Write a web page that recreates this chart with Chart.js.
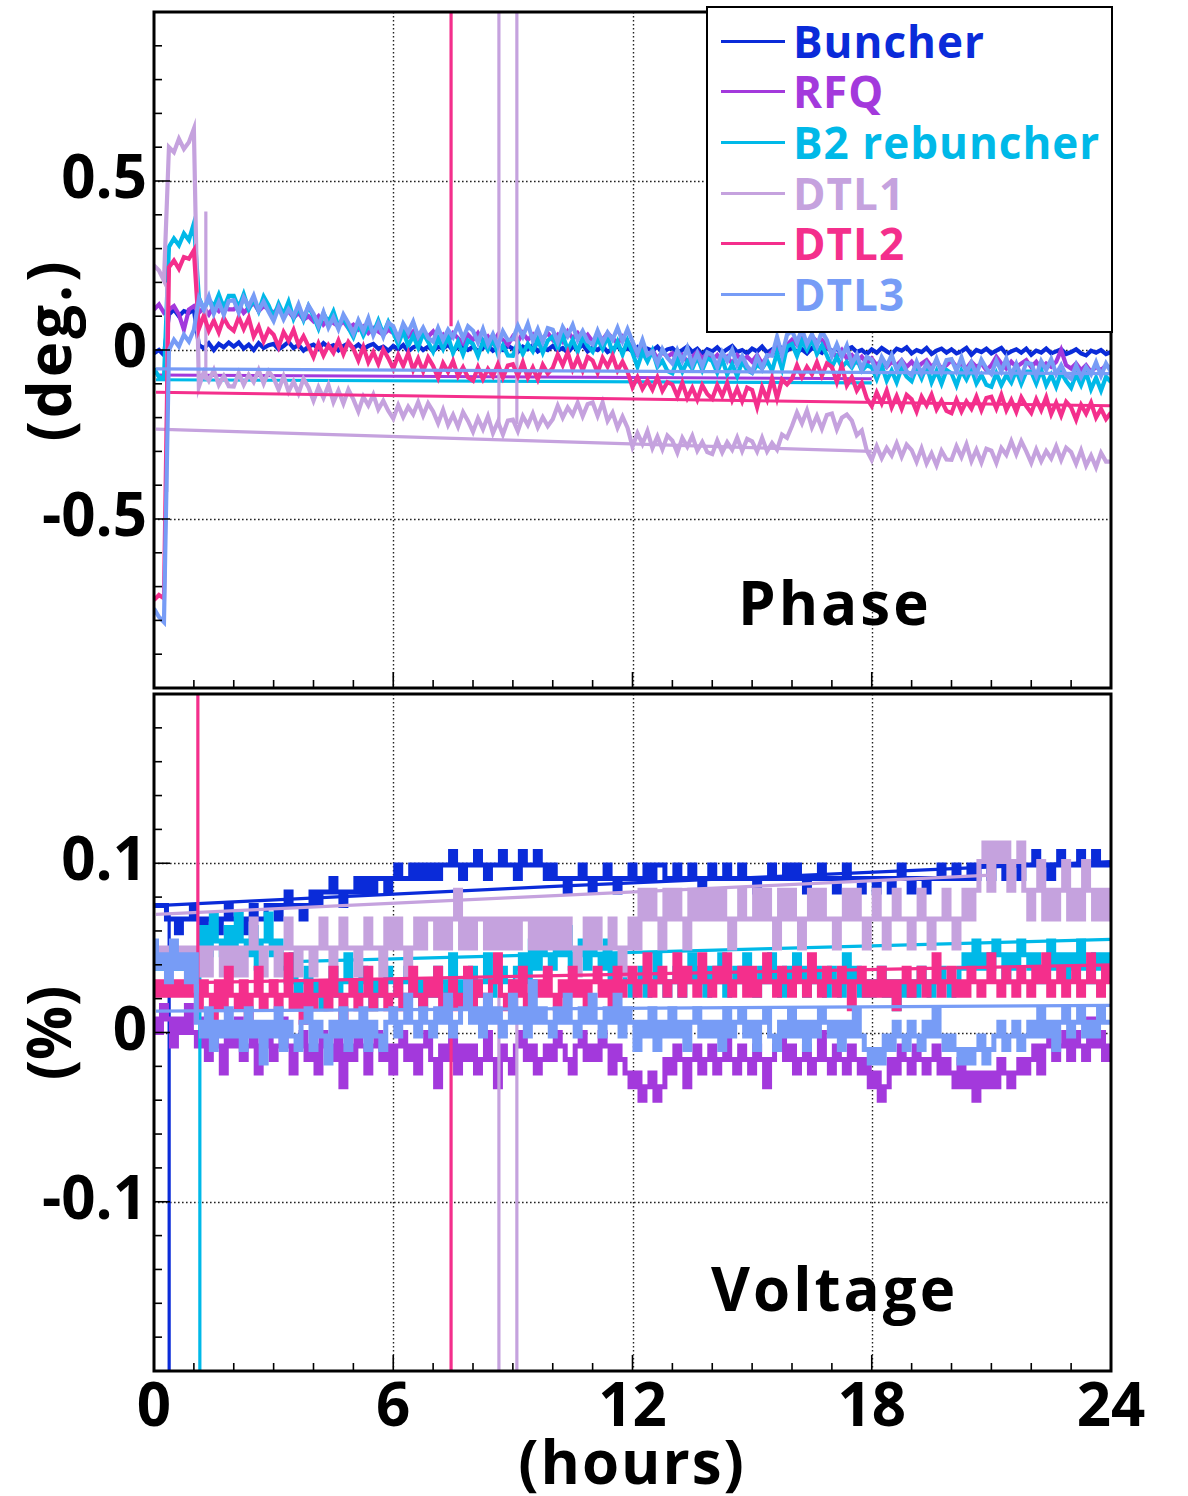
<!DOCTYPE html>
<html>
<head>
<meta charset="utf-8">
<script src="https://cdn.jsdelivr.net/npm/chart.js@4.4.1/dist/chart.umd.min.js"></script>
<style>
html,body{margin:0;padding:0;background:#fff;}
body{width:1188px;height:1496px;position:relative;overflow:hidden;font-family:'Open Sans',sans-serif;}
canvas{position:absolute;left:0;}
#phaseCanvas{top:0;}
#voltCanvas{top:692px;}
.lbl{position:absolute;font-weight:700;color:#000;white-space:nowrap;font-size:60px;line-height:60px;}
#legend{position:absolute;left:706px;top:6px;width:403px;height:323px;border:2px solid #000;background:#fff;}
.lrow{position:absolute;left:0;height:50px;width:400px;}
.lline{position:absolute;left:13px;width:64px;height:3px;}
.ltxt{position:absolute;left:85px;top:0;font-size:44px;line-height:50px;font-weight:700;white-space:nowrap;letter-spacing:1px;}
.rot{transform:rotate(-90deg);transform-origin:50% 50%;text-align:center;}
</style>
</head>
<body>
<canvas id="phaseCanvas" width="1188" height="692"></canvas>
<canvas id="voltCanvas" width="1188" height="804"></canvas>
<div id="legend"></div>
<div class="lbl" style="left:738px;top:572px;letter-spacing:3px;">Phase</div>
<div class="lbl" style="left:711px;top:1258px;letter-spacing:3px;">Voltage</div>
<div class="lbl rot" style="left:-62px;top:320px;width:220px;height:60px;letter-spacing:3px;">(deg.)</div>
<div class="lbl rot" style="left:-62px;top:1003px;width:220px;height:60px;">(%)</div>
<div class="lbl" style="left:432px;top:1431px;width:400px;text-align:center;letter-spacing:2px;">(hours)</div>
<script>
// ---------------- data ----------------
const seriesNames = ['Buncher', 'RFQ', 'B2 rebuncher', 'DTL1', 'DTL2', 'DTL3'];
const seriesColors = ['#0a2bd9', '#a339dc', '#00b9e8', '#c5a2de', '#f42f8c', '#779cf6'];

// time axis (hours), shared by both panels
const hours = [
  0,0.125,0.25,0.375,0.5,0.625,0.75,0.875, 1,1.125,1.25,1.375,1.5,1.625,1.75,1.875,
  2,2.125,2.25,2.375,2.5,2.625,2.75,2.875, 3,3.125,3.25,3.375,3.5,3.625,3.75,3.875,
  4,4.125,4.25,4.375,4.5,4.625,4.75,4.875, 5,5.125,5.25,5.375,5.5,5.625,5.75,5.875,
  6,6.125,6.25,6.375,6.5,6.625,6.75,6.875, 7,7.125,7.25,7.375,7.5,7.625,7.75,7.875,
  8,8.125,8.25,8.375,8.5,8.625,8.75,8.875, 9,9.125,9.25,9.375,9.5,9.625,9.75,9.875,
  10,10.125,10.25,10.375,10.5,10.625,10.75,10.875, 11,11.125,11.25,11.375,11.5,11.625,11.75,11.875,
  12,12.125,12.25,12.375,12.5,12.625,12.75,12.875, 13,13.125,13.25,13.375,13.5,13.625,13.75,13.875,
  14,14.125,14.25,14.375,14.5,14.625,14.75,14.875, 15,15.125,15.25,15.375,15.5,15.625,15.75,15.875,
  16,16.125,16.25,16.375,16.5,16.625,16.75,16.875, 17,17.125,17.25,17.375,17.5,17.625,17.75,17.875,
  18,18.125,18.25,18.375,18.5,18.625,18.75,18.875, 19,19.125,19.25,19.375,19.5,19.625,19.75,19.875,
  20,20.125,20.25,20.375,20.5,20.625,20.75,20.875, 21,21.125,21.25,21.375,21.5,21.625,21.75,21.875,
  22,22.125,22.25,22.375,22.5,22.625,22.75,22.875, 23,23.125,23.25,23.375,23.5,23.625,23.75,23.875, 24];

// Phase (deg.)
const phaseBuncher = [
  -0.01,0.0,-0.015,0.105,0.12,0.1,0.115,0.11, 0.12,0.015,0.005,0.02,0.0,0.018,0.008,0.022,
  0.01,0.022,0.004,0.016,0.0,0.02,0.006,0.014, 0.018,0.002,0.012,0.024,0.006,0.015,-0.002,0.01,
  0.016,0.004,0.02,0.008,0.014,-0.001,0.012,0.02, 0.005,0.016,0.002,0.012,0.018,0.004,0.01,-0.002,
  0.012,0.002,0.015,-0.004,0.008,0.014,0.0,0.01, -0.003,0.01,0.004,0.016,-0.002,0.008,0.012,0.0,
  0.01,-0.004,0.006,0.014,-0.002,0.008,0.0,0.012, 0.004,-0.006,0.01,0.002,0.014,-0.004,0.006,0.0,
  0.012,-0.002,0.006,-0.008,0.01,0.002,0.016,-0.004, 0.006,0.0,0.012,-0.006,0.004,0.01,-0.002,0.006,
  -0.004,0.008,-0.01,0.004,-0.002,0.01,-0.008,0.002, 0.006,-0.008,0.0,0.01,-0.006,0.004,-0.012,0.002,
  -0.004,0.008,-0.008,0.002,0.012,-0.006,0.0,-0.01, 0.004,-0.004,0.01,-0.008,0.002,-0.012,0.006,-0.002,
  0.008,-0.006,0.002,-0.01,0.006,0.0,-0.008,0.01, -0.004,0.004,-0.01,0.002,0.008,-0.006,0.0,-0.012,
  0.002,-0.008,0.006,-0.004,-0.012,0.004,-0.002,0.008, -0.01,0.0,-0.006,0.006,-0.012,-0.002,0.004,-0.008,
  0.002,-0.01,-0.004,0.006,-0.014,0.0,-0.006,0.004, -0.01,-0.002,0.006,-0.012,-0.004,0.002,-0.008,0.004,
  -0.014,-0.002,-0.008,0.004,-0.01,-0.004,0.002,-0.012, -0.006,0.002,-0.01,-0.016,-0.002,-0.008,0.0,-0.012, -0.006];
const phaseRFQ = [
  0.12,0.135,0.11,0.12,0.13,0.105,0.06,0.12, 0.13,0.11,0.125,0.105,0.13,0.115,0.135,0.12,
  0.12,0.135,0.11,0.125,0.14,0.115,0.13,0.12, 0.11,0.125,0.1,0.115,0.095,0.11,0.09,0.1,
  0.085,0.1,0.075,0.09,0.08,0.07,0.085,0.065, 0.075,0.06,0.07,0.05,0.065,0.055,0.045,0.06,
  0.05,0.035,0.06,0.04,0.055,0.03,0.05,0.04, 0.055,0.03,0.045,0.025,0.05,0.035,0.02,0.045,
  0.03,0.05,0.025,0.04,0.02,0.045,0.03,0.015, 0.04,0.025,0.05,0.03,0.045,0.02,0.035,0.05,
  0.03,0.045,0.025,0.055,0.035,0.05,0.03,0.045, 0.025,0.045,0.03,0.05,0.035,0.02,0.04,0.025,
  0.005,-0.015,0.01,-0.02,0.0,-0.025,-0.005,-0.02, -0.01,-0.03,-0.015,-0.035,-0.02,-0.005,-0.025,-0.01,
  -0.03,-0.015,-0.035,-0.02,-0.04,-0.015,-0.03,-0.02, -0.035,-0.015,-0.04,-0.02,-0.005,0.01,-0.005,0.015,
  0.03,0.015,0.035,0.02,0.04,0.025,0.03,0.01, -0.005,-0.02,0.0,-0.025,-0.015,-0.035,-0.02,-0.04,
  -0.025,-0.045,-0.03,-0.05,-0.035,-0.045,-0.03,-0.05, -0.035,-0.055,-0.04,-0.03,-0.05,-0.035,-0.055,-0.045,
  -0.03,-0.05,-0.04,-0.055,-0.035,-0.05,-0.04,-0.06, -0.045,-0.02,-0.04,-0.055,-0.035,-0.05,-0.04,-0.03,
  -0.05,-0.035,-0.055,-0.04,-0.05,-0.035,0.0,-0.045, -0.055,-0.04,-0.06,-0.045,-0.065,-0.05,-0.06,-0.045, -0.055];
const phaseB2 = [
  -0.055,-0.08,-0.085,0.305,0.33,0.31,0.345,0.325, 0.375,0.155,0.12,0.15,0.128,0.164,0.124,0.16,
  0.16,0.125,0.165,0.12,0.15,0.115,0.158,0.132, 0.097,0.137,0.105,0.143,0.093,0.127,0.089,0.13,
  0.1,0.064,0.108,0.082,0.114,0.07,0.096,0.066, 0.038,0.078,0.043,0.073,0.051,0.087,0.047,0.083,
  0.052,0.017,0.057,0.012,0.042,0.007,0.05,0.024, -0.005,0.035,0.003,0.041,-0.009,0.025,-0.013,0.028,
  0.018,-0.018,0.026,0.0,0.032,-0.012,0.014,-0.016, -0.017,0.023,-0.012,0.018,-0.004,0.032,-0.008,0.028,
  0.04,0.005,0.045,0.0,0.03,-0.005,0.038,0.012, -0.005,0.035,0.003,0.041,-0.009,0.025,-0.013,0.028,
  -0.008,-0.05,-0.006,-0.034,-0.002,-0.05,-0.032,-0.062, -0.069,-0.029,-0.064,-0.034,-0.056,-0.02,-0.06,-0.024,
  -0.032,-0.067,-0.027,-0.072,-0.042,-0.077,-0.034,-0.06, -0.068,-0.043,-0.055,-0.032,-0.062,-0.008,-0.056,0.01,
  0.018,-0.018,0.026,0.0,0.032,-0.012,0.014,-0.016, -0.05,-0.02,-0.05,-0.035,-0.052,-0.026,-0.061,-0.045,
  -0.051,-0.086,-0.046,-0.091,-0.061,-0.096,-0.053,-0.079, -0.092,-0.052,-0.084,-0.046,-0.096,-0.062,-0.1,-0.059,
  -0.069,-0.105,-0.061,-0.087,-0.055,-0.099,-0.073,-0.103, -0.109,-0.069,-0.104,-0.074,-0.096,-0.06,-0.1,-0.064,
  -0.064,-0.099,-0.059,-0.104,-0.074,-0.109,-0.066,-0.092, -0.112,-0.072,-0.104,-0.066,-0.116,-0.082,-0.12,-0.079, -0.095];
const phaseDTL1 = [
  0.25,0.235,0.205,0.6,0.585,0.625,0.595,0.615, 0.655,-0.109,-0.065,-0.091,-0.059,-0.103,-0.077,-0.107,
  -0.108,-0.068,-0.103,-0.073,-0.095,-0.059,-0.099,-0.063, -0.083,-0.118,-0.078,-0.123,-0.093,-0.128,-0.085,-0.111,
  -0.15,-0.11,-0.142,-0.104,-0.154,-0.12,-0.158,-0.117, -0.146,-0.182,-0.138,-0.164,-0.132,-0.176,-0.15,-0.18,
  -0.203,-0.163,-0.198,-0.168,-0.19,-0.154,-0.194,-0.158, -0.182,-0.217,-0.177,-0.222,-0.192,-0.227,-0.184,-0.21,
  -0.242,-0.202,-0.234,-0.196,-0.246,-0.212,-0.25,-0.209, -0.206,-0.24,-0.196,-0.222,-0.188,-0.229,-0.199,-0.225,
  -0.205,-0.165,-0.2,-0.17,-0.192,-0.156,-0.196,-0.16, -0.155,-0.195,-0.155,-0.21,-0.185,-0.23,-0.197,-0.23,
  -0.286,-0.246,-0.278,-0.24,-0.29,-0.256,-0.294,-0.253, -0.268,-0.304,-0.26,-0.286,-0.254,-0.298,-0.272,-0.302,
  -0.308,-0.268,-0.303,-0.273,-0.295,-0.259,-0.299,-0.263, -0.27,-0.3,-0.26,-0.3,-0.275,-0.295,-0.25,-0.26,
  -0.225,-0.185,-0.217,-0.179,-0.229,-0.195,-0.233,-0.192, -0.188,-0.235,-0.2,-0.191,-0.209,-0.252,-0.238,-0.297,
  -0.325,-0.285,-0.32,-0.29,-0.312,-0.276,-0.316,-0.28, -0.296,-0.331,-0.291,-0.336,-0.306,-0.341,-0.298,-0.324,
  -0.325,-0.285,-0.317,-0.279,-0.329,-0.295,-0.333,-0.292, -0.298,-0.334,-0.29,-0.31,-0.27,-0.308,-0.27,-0.3,
  -0.334,-0.294,-0.329,-0.299,-0.321,-0.285,-0.325,-0.289, -0.302,-0.337,-0.297,-0.342,-0.312,-0.347,-0.304,-0.33, -0.33];
const phaseDTL2 = [
  -0.74,-0.725,-0.735,0.245,0.265,0.24,0.275,0.27, 0.295,0.062,0.102,0.057,0.087,0.052,0.095,0.069,
  0.057,0.097,0.062,0.095,0.04,0.069,0.026,0.06, 0.045,0.009,0.053,0.027,0.059,0.015,0.041,0.011,
  -0.021,0.019,-0.016,0.014,-0.008,0.028,-0.012,0.024, 0.004,-0.031,0.009,-0.036,-0.006,-0.041,0.002,-0.024,
  -0.055,-0.015,-0.047,-0.009,-0.059,-0.025,-0.063,-0.022, -0.047,-0.083,-0.039,-0.065,-0.033,-0.077,-0.051,-0.081,
  -0.091,-0.051,-0.086,-0.056,-0.078,-0.042,-0.082,-0.046, -0.042,-0.077,-0.037,-0.082,-0.052,-0.087,-0.044,-0.07,
  -0.053,-0.013,-0.045,-0.007,-0.057,-0.023,-0.061,-0.02, -0.031,-0.067,-0.023,-0.049,-0.017,-0.061,-0.035,-0.065,
  -0.11,-0.08,-0.115,-0.09,-0.117,-0.081,-0.121,-0.095, -0.102,-0.137,-0.097,-0.142,-0.112,-0.147,-0.104,-0.13,
  -0.144,-0.104,-0.136,-0.098,-0.148,-0.114,-0.152,-0.111, -0.118,-0.169,-0.11,-0.146,-0.084,-0.143,-0.087,-0.102,
  -0.085,-0.045,-0.08,-0.05,-0.072,-0.036,-0.076,-0.04, -0.05,-0.095,-0.045,-0.105,-0.08,-0.12,-0.097,-0.143,
  -0.166,-0.126,-0.158,-0.12,-0.17,-0.136,-0.174,-0.133, -0.146,-0.182,-0.138,-0.164,-0.132,-0.176,-0.15,-0.18,
  -0.187,-0.147,-0.182,-0.152,-0.174,-0.138,-0.178,-0.142, -0.138,-0.173,-0.133,-0.178,-0.148,-0.183,-0.14,-0.166,
  -0.186,-0.146,-0.178,-0.14,-0.19,-0.156,-0.194,-0.153, -0.17,-0.206,-0.162,-0.188,-0.156,-0.2,-0.174,-0.204, -0.185];
const phaseDTL3 = [
  -0.765,-0.79,-0.805,0.0,0.03,0.01,0.045,0.025, 0.06,0.152,0.12,0.158,0.108,0.142,0.104,0.145,
  0.147,0.111,0.155,0.129,0.161,0.117,0.143,0.113, 0.086,0.126,0.091,0.121,0.099,0.135,0.095,0.131,
  0.107,0.072,0.112,0.067,0.097,0.062,0.105,0.079, 0.048,0.088,0.056,0.094,0.044,0.078,0.04,0.081,
  0.07,0.034,0.078,0.052,0.084,0.04,0.066,0.036, 0.025,0.065,0.03,0.06,0.038,0.074,0.034,0.07,
  0.057,0.022,0.062,0.017,0.047,0.012,0.055,0.029, 0.032,0.072,0.04,0.078,0.028,0.062,0.024,0.065,
  0.06,0.024,0.068,0.042,0.074,0.03,0.056,0.026, 0.017,0.057,0.022,0.052,0.03,0.066,0.026,0.062,
  0.025,-0.01,0.03,-0.015,-0.005,-0.04,0.003,-0.023, -0.04,0.0,-0.032,0.006,-0.044,-0.01,-0.048,-0.007,
  -0.014,-0.05,-0.006,-0.032,0.0,-0.044,-0.018,-0.048, -0.065,-0.02,-0.055,-0.015,-0.017,0.039,-0.016,0.045,
  0.057,0.022,0.062,0.017,0.047,0.012,0.055,0.029, -0.018,0.017,-0.02,0.013,-0.042,-0.013,-0.056,-0.02,
  -0.029,-0.065,-0.021,-0.047,-0.015,-0.059,-0.033,-0.063, -0.075,-0.035,-0.07,-0.04,-0.062,-0.026,-0.066,-0.03,
  -0.027,-0.062,-0.022,-0.067,-0.037,-0.072,-0.029,-0.055, -0.071,-0.031,-0.063,-0.025,-0.075,-0.041,-0.079,-0.038,
  -0.041,-0.077,-0.033,-0.059,-0.027,-0.071,-0.045,-0.075, -0.085,-0.045,-0.08,-0.05,-0.072,-0.036,-0.076,-0.04, -0.065];

// straight return segments [hour, value] and spikes [hour, from, to]
const phaseBuncherWrap = [];
const phaseRFQWrap = [[0.05,-0.074],[18,-0.085]];
const phaseB2Wrap = [[0.05,-0.088],[18,-0.097]];
const phaseDTL1Wrap = [[0.05,-0.234],[18,-0.30]];
const phaseDTL2Wrap = [[0.05,-0.125],[24,-0.165]];
const phaseDTL3Wrap = [[0.05,-0.056],[24,-0.07]];
const phaseBuncherSpikes = [];
const phaseRFQSpikes = [];
const phaseB2Spikes = [];
const phaseDTL1Spikes = [[0.32,0.2,-0.42],[1.3,-0.09,0.41],[8.65,-0.22,1.2],[9.1,-0.22,1.2]];
const phaseDTL2Spikes = [[7.45,0.07,1.2]];
const phaseDTL3Spikes = [];

// Voltage (%)
const voltBuncher = [
  0.075,0.075,0.075,0.067,0.067,0.059,0.067,0.067, 0.075,0.067,0.059,0.067,0.067,0.059,0.067,0.075,
  0.067,0.067,0.059,0.067,0.075,0.067,0.067,0.075, 0.075,0.067,0.075,0.083,0.075,0.075,0.067,0.075,
  0.083,0.075,0.083,0.083,0.091,0.083,0.075,0.083, 0.083,0.091,0.083,0.091,0.083,0.091,0.091,0.083,
  0.091,0.099,0.091,0.091,0.099,0.091,0.099,0.091, 0.099,0.091,0.099,0.099,0.107,0.099,0.091,0.099,
  0.099,0.107,0.099,0.091,0.099,0.099,0.107,0.099, 0.099,0.091,0.107,0.099,0.099,0.107,0.099,0.091,
  0.099,0.091,0.091,0.083,0.091,0.091,0.099,0.091, 0.083,0.091,0.091,0.099,0.091,0.083,0.091,0.091,
  0.099,0.091,0.091,0.099,0.091,0.099,0.099,0.091, 0.091,0.099,0.091,0.091,0.099,0.091,0.083,0.091,
  0.099,0.091,0.091,0.099,0.091,0.091,0.099,0.091, 0.091,0.083,0.091,0.091,0.099,0.091,0.091,0.099,
  0.091,0.099,0.091,0.083,0.091,0.091,0.099,0.091, 0.091,0.083,0.091,0.099,0.091,0.091,0.083,0.091,
  0.091,0.083,0.091,0.091,0.083,0.091,0.099,0.091, 0.083,0.091,0.091,0.083,0.091,0.091,0.099,0.091,
  0.091,0.099,0.091,0.091,0.099,0.091,0.099,0.099, 0.091,0.099,0.099,0.091,0.099,0.099,0.091,0.099,
  0.099,0.107,0.099,0.099,0.091,0.099,0.107,0.099, 0.099,0.099,0.107,0.099,0.099,0.107,0.099,0.099, 0.099];
const voltRFQ = [
  0.008,0.0,0.016,0.008,-0.008,0.008,0.0,0.016, 0.0,-0.008,0.008,-0.016,0.0,-0.008,-0.024,0.0,
  -0.008,0.008,-0.016,-0.008,0.0,-0.024,-0.008,0.0, -0.016,-0.008,0.008,-0.008,-0.024,-0.008,0.0,-0.016,
  -0.008,-0.024,0.0,-0.008,-0.016,0.0,-0.032,-0.008, -0.016,0.0,-0.008,-0.024,-0.008,0.0,-0.016,-0.008,
  -0.024,-0.008,0.0,-0.016,-0.008,-0.024,-0.008,0.0, -0.016,-0.032,-0.008,-0.016,0.0,-0.024,-0.008,-0.016,
  -0.008,-0.024,-0.016,0.0,-0.016,-0.032,-0.008,-0.016, -0.024,-0.008,0.0,-0.016,-0.008,-0.024,-0.016,-0.008,
  -0.016,0.0,-0.008,-0.016,-0.024,-0.008,0.0,-0.016, -0.008,-0.016,0.0,-0.008,-0.024,-0.008,-0.016,-0.024,
  -0.032,-0.024,-0.04,-0.032,-0.024,-0.04,-0.032,-0.016, -0.024,-0.008,-0.016,-0.032,-0.016,-0.008,-0.024,-0.016,
  -0.008,-0.024,-0.016,0.0,-0.016,-0.024,-0.008,-0.016, -0.024,-0.008,-0.016,-0.032,-0.016,-0.008,0.0,-0.016,
  -0.008,-0.024,-0.016,-0.008,-0.024,-0.016,0.0,-0.016, -0.024,-0.008,-0.016,-0.024,-0.008,-0.016,-0.024,-0.016,
  -0.032,-0.024,-0.04,-0.032,-0.016,-0.024,-0.008,-0.016, -0.024,-0.008,-0.016,-0.024,-0.016,-0.008,-0.024,-0.016,
  -0.024,-0.032,-0.016,-0.032,-0.024,-0.04,-0.024,-0.032, -0.024,-0.032,-0.016,-0.024,-0.032,-0.024,-0.016,-0.024,
  -0.016,-0.008,-0.024,-0.008,0.0,-0.016,-0.008,0.0, -0.016,0.0,-0.008,-0.016,0.008,-0.008,0.0,-0.016, -0.008];
const voltB2 = [
  0.038,0.046,0.038,0.046,0.038,0.046,0.038,0.046, 0.038,0.046,0.062,0.046,0.07,0.054,0.046,0.062,
  0.046,0.07,0.054,0.046,0.062,0.038,0.054,0.07, 0.046,0.054,0.038,0.03,0.046,0.022,0.03,0.038,
  0.022,0.03,0.014,0.03,0.038,0.022,0.03,0.046, 0.03,0.022,0.038,0.03,0.014,0.03,0.022,0.038,
  0.03,0.022,0.03,0.038,0.022,0.03,0.014,0.03, 0.022,0.038,0.03,0.022,0.046,0.03,0.022,0.03,
  0.038,0.022,0.03,0.046,0.03,0.022,0.038,0.03, 0.03,0.038,0.046,0.03,0.054,0.038,0.062,0.046,
  0.038,0.054,0.046,0.062,0.038,0.046,0.054,0.038, 0.062,0.046,0.038,0.054,0.03,0.046,0.038,0.03,
  0.022,0.03,0.038,0.022,0.03,0.046,0.03,0.022, 0.03,0.038,0.022,0.03,0.046,0.03,0.038,0.022,
  0.038,0.03,0.046,0.022,0.03,0.038,0.03,0.046, 0.03,0.022,0.038,0.03,0.046,0.03,0.022,0.038,
  0.03,0.046,0.038,0.022,0.03,0.038,0.03,0.022, 0.038,0.03,0.022,0.046,0.03,0.038,0.022,0.03,
  0.022,0.03,0.038,0.022,0.03,0.014,0.03,0.022, 0.03,0.022,0.038,0.03,0.022,0.03,0.038,0.03,
  0.022,0.03,0.038,0.046,0.038,0.054,0.038,0.046, 0.038,0.054,0.046,0.03,0.046,0.038,0.054,0.046,
  0.038,0.046,0.03,0.038,0.054,0.038,0.046,0.03, 0.046,0.038,0.054,0.038,0.03,0.046,0.038,0.046, 0.038];
const voltDTL1 = [
  0.05,0.042,0.05,0.042,0.05,0.042,0.05,0.042, 0.05,0.034,0.05,0.034,0.05,0.05,0.034,0.05,
  0.034,0.05,0.034,0.05,0.067,0.05,0.034,0.05, 0.05,0.034,0.05,0.067,0.05,0.034,0.05,0.05,
  0.034,0.05,0.067,0.05,0.034,0.05,0.067,0.05, 0.05,0.034,0.05,0.067,0.05,0.05,0.034,0.067,
  0.05,0.067,0.05,0.034,0.05,0.067,0.05,0.067, 0.067,0.05,0.067,0.05,0.067,0.084,0.05,0.067,
  0.05,0.067,0.067,0.05,0.067,0.05,0.067,0.05, 0.067,0.05,0.067,0.067,0.05,0.067,0.05,0.067,
  0.05,0.067,0.05,0.067,0.05,0.034,0.05,0.067, 0.05,0.067,0.05,0.05,0.067,0.05,0.034,0.05,
  0.067,0.05,0.084,0.067,0.084,0.067,0.05,0.084, 0.067,0.084,0.067,0.05,0.084,0.067,0.084,0.067,
  0.084,0.067,0.084,0.067,0.05,0.067,0.084,0.067, 0.067,0.084,0.067,0.084,0.067,0.05,0.084,0.067,
  0.084,0.067,0.05,0.067,0.084,0.067,0.084,0.067, 0.067,0.05,0.067,0.084,0.067,0.084,0.067,0.05,
  0.067,0.084,0.067,0.05,0.067,0.084,0.067,0.067, 0.05,0.067,0.084,0.067,0.05,0.067,0.067,0.084,
  0.067,0.05,0.067,0.084,0.067,0.084,0.101,0.112, 0.084,0.112,0.101,0.112,0.084,0.101,0.112,0.084,
  0.067,0.084,0.101,0.067,0.084,0.067,0.084,0.101, 0.067,0.084,0.067,0.101,0.084,0.067,0.084,0.067, 0.084];
const voltDTL2 = [
  0.022,0.03,0.022,0.03,0.022,0.03,0.022,0.03, 0.022,0.014,0.03,0.022,0.006,0.03,0.014,0.038,
  0.022,0.014,0.03,0.006,0.022,0.038,0.014,0.022, 0.03,0.014,0.022,0.046,0.014,0.022,0.006,0.03,
  0.014,0.022,0.03,0.014,0.038,0.022,0.006,0.022, 0.03,0.014,0.022,0.038,0.014,0.022,0.03,0.014,
  0.022,0.03,0.014,0.022,0.038,0.022,0.014,0.03, 0.022,0.038,0.014,0.022,0.03,0.014,0.022,0.038,
  0.014,0.03,0.022,0.014,0.03,0.046,0.022,0.014, 0.03,0.022,0.038,0.014,0.022,0.03,0.022,0.038,
  0.022,0.014,0.03,0.022,0.038,0.022,0.03,0.014, 0.03,0.038,0.022,0.03,0.014,0.038,0.022,0.03,
  0.038,0.022,0.03,0.046,0.022,0.03,0.038,0.022, 0.03,0.046,0.022,0.038,0.03,0.022,0.046,0.03,
  0.022,0.038,0.03,0.046,0.022,0.03,0.038,0.022, 0.038,0.022,0.03,0.046,0.03,0.022,0.038,0.03,
  0.022,0.038,0.03,0.022,0.046,0.03,0.022,0.038, 0.03,0.022,0.038,0.03,0.014,0.03,0.038,0.022,
  0.03,0.022,0.038,0.022,0.03,0.014,0.03,0.038, 0.022,0.03,0.038,0.022,0.03,0.046,0.022,0.03,
  0.038,0.022,0.03,0.022,0.038,0.03,0.022,0.03, 0.046,0.03,0.022,0.038,0.03,0.022,0.038,0.03,
  0.022,0.038,0.03,0.046,0.022,0.03,0.038,0.022, 0.03,0.038,0.022,0.03,0.046,0.03,0.022,0.038, 0.03];
const voltDTL3 = [
  0.054,0.038,0.046,0.03,0.054,0.038,0.046,0.03, 0.046,0.006,-0.002,0.014,-0.01,0.006,-0.002,0.014,
  -0.002,0.006,-0.01,0.014,-0.002,0.006,-0.018,0.006, -0.002,0.014,-0.01,0.006,-0.002,-0.01,0.006,0.014,
  -0.01,0.006,-0.002,-0.018,0.006,-0.002,0.014,-0.01, 0.006,-0.002,0.014,-0.01,0.006,-0.002,-0.01,0.006,
  0.014,-0.002,0.006,0.022,0.006,-0.002,0.014,0.006, -0.002,0.014,0.006,0.022,-0.002,0.006,0.014,0.03,
  0.006,0.014,-0.002,0.022,0.006,0.014,-0.002,0.006, 0.022,0.006,0.014,-0.002,0.03,0.006,0.014,0.006,
  -0.002,0.014,0.006,0.022,0.006,-0.002,0.014,0.006, 0.022,0.006,-0.002,0.014,0.006,0.022,-0.002,0.014,
  0.006,-0.01,0.006,-0.002,0.014,-0.01,0.006,-0.002, 0.014,-0.002,0.006,-0.01,0.006,0.014,-0.002,0.006,
  -0.002,0.006,-0.01,0.014,-0.002,0.006,0.014,-0.002, 0.006,-0.01,0.006,0.014,-0.002,-0.01,0.006,-0.002,
  0.014,-0.002,0.006,-0.01,0.006,-0.002,0.014,0.006, -0.002,0.006,-0.01,0.006,-0.002,0.014,-0.002,-0.01,
  -0.018,-0.01,-0.018,-0.002,-0.01,0.006,-0.002,-0.01, 0.006,-0.002,-0.01,0.006,-0.002,0.014,-0.002,-0.01,
  -0.002,-0.01,-0.018,-0.01,-0.018,-0.01,-0.002,-0.018, -0.01,-0.002,0.006,-0.01,-0.002,0.006,-0.01,-0.002,
  0.006,-0.002,0.014,-0.002,0.006,-0.01,0.006,0.014, -0.002,0.006,0.014,-0.002,0.006,-0.002,0.014,0.006, 0.006];

const voltBuncherWrap = [[0.05,0.075],[10.3,0.0866],[24,0.101]];
const voltRFQWrap = [];
const voltB2Wrap = [[3.7,0.042],[24,0.055]];
const voltDTL1Wrap = [[0.05,0.0698],[21,0.093]];
const voltDTL2Wrap = [[0.05,0.029],[24,0.040]];
const voltDTL3Wrap = [[0.05,0.0126],[24,0.016]];
const voltBuncherSpikes = [[0.38,0.07,-0.3]];
const voltRFQSpikes = [];
const voltB2Spikes = [[1.15,0.04,-0.3]];
const voltDTL1Spikes = [[8.65,0.034,-0.3],[9.1,0.034,-0.3]];
const voltDTL2Spikes = [[1.1,0.03,0.3],[7.45,0.014,-0.3]];
const voltDTL3Spikes = [];

// axis ticks
const hourTicks = [0,1,2,3,4,5,6,7,8,9,10,11,12,13,14,15,16,17,18,19,20,21,22,23,24];
const hourMajor = [0,6,12,18,24];
const hourGrid = [6,12,18];
const phaseTicks = [-1,-0.9,-0.8,-0.7,-0.6,-0.5,-0.4,-0.3,-0.2,-0.1,0,0.1,0.2,0.3,0.4,0.5,0.6,0.7,0.8,0.9,1];
const phaseMajor = [-1,-0.5,0,0.5,1];
const phaseGrid = [-0.5,0,0.5];
const voltTicks = [-0.2,-0.18,-0.16,-0.14,-0.12,-0.1,-0.08,-0.06,-0.04,-0.02,0,0.02,0.04,0.06,0.08,0.1,0.12,0.14,0.16,0.18,0.2];
const voltMajor = [-0.2,-0.1,0,0.1,0.2];
const voltGrid = [-0.1,0,0.1];

// ---------------- legend ----------------
const legend = document.getElementById('legend');
const rowCenters = [35, 85, 136, 187, 237, 288];
seriesNames.forEach((name, k) => {
  const row = document.createElement('div');
  row.className = 'lrow';
  row.style.top = (rowCenters[k] - 27) + 'px';
  const ln = document.createElement('div');
  ln.className = 'lline';
  ln.style.top = '24px';
  ln.style.background = seriesColors[k];
  const tx = document.createElement('div');
  tx.className = 'ltxt';
  tx.style.color = seriesColors[k];
  tx.textContent = name;
  row.appendChild(ln); row.appendChild(tx);
  legend.appendChild(row);
});

// ---------------- chart helpers ----------------
function makeDatasets(xs, values, wraps, spikes, stepped, width) {
  const out = [];
  seriesNames.forEach((name, k) => {
    const order = seriesNames.length - k;
    out.push({
      label: name,
      data: xs.map((h, i) => ({ x: h, y: values[k][i] })),
      borderColor: seriesColors[k], borderWidth: width, stepped: stepped,
      borderJoinStyle: 'miter', borderCapStyle: 'butt',
      order: order, pointRadius: 0, tension: 0, fill: false, clip: 0, spanGaps: false
    });
    const extra = [];
    wraps[k].forEach(p => extra.push({ x: p[0], y: p[1] }));
    spikes[k].forEach(s => {
      if (extra.length) extra.push({ x: s[0], y: null });
      extra.push({ x: s[0], y: s[1] }, { x: s[0], y: s[2] });
    });
    if (extra.length) {
      out.push({
        label: name + ' extra', data: extra, borderColor: seriesColors[k], borderWidth: 3.2,
        stepped: false, order: order, pointRadius: 0, tension: 0, fill: false, clip: 0, spanGaps: false
      });
    }
  });
  return out;
}

const axisPlugin = {
  id: 'rootAxes',
  beforeDatasetsDraw(chart, args, o) {
    const { ctx, chartArea: a, scales: { x, y } } = chart;
    ctx.save();
    ctx.strokeStyle = '#222';
    ctx.lineWidth = 1.4;
    ctx.setLineDash([1.6, 2.4]);
    o.xGrid.forEach(v => {
      const px = Math.round(x.getPixelForValue(v)) + 0.5;
      ctx.beginPath(); ctx.moveTo(px, a.top); ctx.lineTo(px, a.bottom); ctx.stroke();
    });
    o.yGrid.forEach(v => {
      const py = Math.round(y.getPixelForValue(v)) + 0.5;
      ctx.beginPath(); ctx.moveTo(a.left, py); ctx.lineTo(a.right, py); ctx.stroke();
    });
    ctx.restore();
  },
  afterDatasetsDraw(chart, args, o) {
    const { ctx, chartArea: a, scales: { x, y } } = chart;
    ctx.save();
    ctx.strokeStyle = '#000';
    ctx.lineWidth = 1.6;
    ctx.setLineDash([]);
    o.xTicks.forEach(v => {
      const px = x.getPixelForValue(v);
      const len = o.xMajor.includes(v) ? 16 : 8;
      ctx.beginPath(); ctx.moveTo(px, a.bottom); ctx.lineTo(px, a.bottom - len); ctx.stroke();
    });
    o.yTicks.forEach(v => {
      const py = y.getPixelForValue(v);
      const len = o.yMajor.includes(v) ? 16 : 8;
      ctx.beginPath(); ctx.moveTo(a.left, py); ctx.lineTo(a.left + len, py); ctx.stroke();
    });
    ctx.lineWidth = 3;
    ctx.strokeRect(a.left, a.top, a.right - a.left, a.bottom - a.top);
    ctx.restore();
  }
};

const tickFont = { family: "'Open Sans', sans-serif", size: 60, weight: 'bold', lineHeight: 1.2 };

function makeChart(canvasId, datasets, yMin, yMax, yStep, showXLabels, xHeight, pad, ticksCfg) {
  return new Chart(document.getElementById(canvasId), {
    type: 'line',
    data: { datasets: datasets },
    options: {
      responsive: false, maintainAspectRatio: false, animation: false, devicePixelRatio: 1,
      events: [],
      layout: { padding: pad },
      plugins: { legend: { display: false }, tooltip: { enabled: false }, rootAxes: ticksCfg },
      scales: {
        x: {
          type: 'linear', min: 0, max: 24, display: true,
          grid: { display: false, drawTicks: false }, border: { display: false },
          ticks: { display: showXLabels, stepSize: 6, font: tickFont, color: '#000', padding: 2, maxRotation: 0, autoSkip: false,
                   callback: v => String(Math.round(v)) },
          afterFit: s => { s.height = xHeight; s.paddingLeft = 0; s.paddingRight = 0; }
        },
        y: {
          type: 'linear', min: yMin, max: yMax,
          grid: { display: false, drawTicks: false }, border: { display: false },
          ticks: { stepSize: yStep, font: tickFont, color: '#000', padding: 7, autoSkip: false,
                   callback: v => (Math.abs(Math.abs(v) - yMax) < 1e-9 ? '' : String(Math.round(v * 10) / 10)) },
          afterFit: s => { s.width = 154; s.paddingTop = 0; s.paddingBottom = 0; }
        }
      }
    },
    plugins: [axisPlugin]
  });
}

makeChart('phaseCanvas',
  makeDatasets(hours,
    [phaseBuncher, phaseRFQ, phaseB2, phaseDTL1, phaseDTL2, phaseDTL3],
    [phaseBuncherWrap, phaseRFQWrap, phaseB2Wrap, phaseDTL1Wrap, phaseDTL2Wrap, phaseDTL3Wrap],
    [phaseBuncherSpikes, phaseRFQSpikes, phaseB2Spikes, phaseDTL1Spikes, phaseDTL2Spikes, phaseDTL3Spikes],
    false, 4.2),
  -1, 1, 0.5, false, 0, { left: 0, right: 77, top: 12, bottom: 4 },
  { xGrid: hourGrid, yGrid: phaseGrid, xTicks: hourTicks, xMajor: hourMajor, yTicks: phaseTicks, yMajor: phaseMajor });

makeChart('voltCanvas',
  makeDatasets(hours,
    [voltBuncher, voltRFQ, voltB2, voltDTL1, voltDTL2, voltDTL3],
    [voltBuncherWrap, voltRFQWrap, voltB2Wrap, voltDTL1Wrap, voltDTL2Wrap, voltDTL3Wrap],
    [voltBuncherSpikes, voltRFQSpikes, voltB2Spikes, voltDTL1Spikes, voltDTL2Spikes, voltDTL3Spikes],
    'middle', 5),
  -0.2, 0.2, 0.1, true, 125, { left: 0, right: 77, top: 2, bottom: 0 },
  { xGrid: hourGrid, yGrid: voltGrid, xTicks: hourTicks, xMajor: hourMajor, yTicks: voltTicks, yMajor: voltMajor });
</script>
</body>
</html>
